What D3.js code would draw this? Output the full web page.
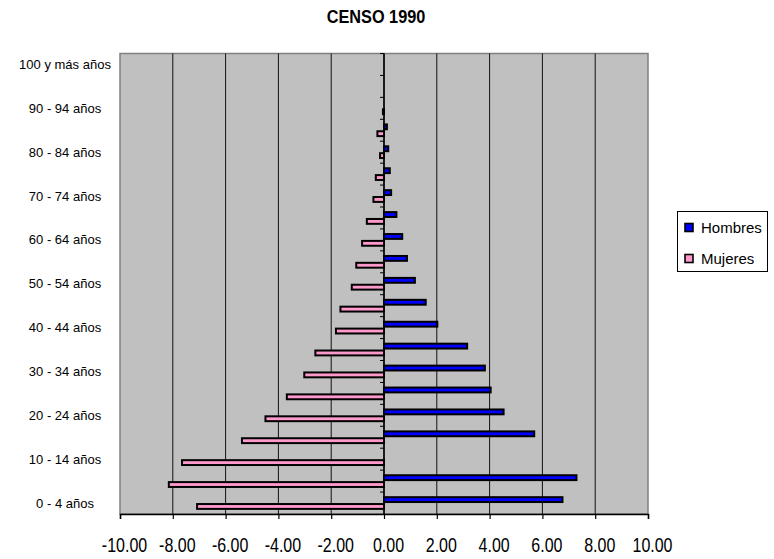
<!DOCTYPE html>
<html>
<head>
<meta charset="utf-8">
<script src="https://cdn.jsdelivr.net/npm/d3@7"></script>
<style>
  body { margin: 0; background: #fff; }
  #chart { width: 774px; height: 559px; }
</style>
</head>
<body>
<div id="chart"></div>
<script>
"use strict"

/* values, 0-4 first (bottom of the chart) */
let categories = ["0 - 4 años", "5 - 9 años", "10 - 14 años", "15 - 19 años", "20 - 24 años",
    "25 - 29 años", "30 - 34 años", "35 - 39 años", "40 - 44 años", "45 - 49 años",
    "50 - 54 años", "55 - 59 años", "60 - 64 años", "65 - 69 años", "70 - 74 años",
    "75 - 79 años", "80 - 84 años", "85 - 89 años", "90 - 94 años", "95 - 99 años",
    "100 y más años"];

let hombres = [6.76, 7.29, 0, 5.69, 4.53, 4.04, 3.82, 3.15, 2.02, 1.58,
    1.17, 0.87, 0.69, 0.47, 0.27, 0.22, 0.16, 0.11, 0, 0, 0];

let mujeres = [-7.08, -8.15, -7.65, -5.38, -4.49, -3.68, -3.02, -2.6, -1.82, -1.65,
    -1.22, -1.05, -0.83, -0.65, -0.4, -0.31, -0.15, -0.25, -0.04, 0, 0];

let series = ["Hombres", "Mujeres"];
let seriesColors = ["#0000FF", "#FF99CC"];

let xTicks = [-10, -8, -6, -4, -2, 0, 2, 4, 6, 8, 10];
let xTickLabels = ["-10.00", "-8.00", "-6.00", "-4.00", "-2.00", "0.00", "2.00", "4.00", "6.00", "8.00", "10.00"];

let title = "CENSO 1990";

let drawing = d3.select("#chart")
    .append("svg")
    .attr("width", 774)
    .attr("height", 559);

// plot area edges measured in the picture
let plotLeft = 120, plotRight = 648, plotTop = 53.5, plotBottom = 514;

let x = d3.scaleLinear().domain([-10, 10]).range([plotLeft, plotRight]);
let y = d3.scaleBand().domain(categories.slice().reverse()).range([plotTop, plotBottom]);
let sub = d3.scaleBand().domain(series).range([0, y.bandwidth()]).paddingOuter(0.6);

// no narrow font installed, so squeeze the normal one sideways
function squeeze(sel, ratio) {
    sel.each(function () {
        let w = this.getComputedTextLength();
        d3.select(this).attr("textLength", w * ratio).attr("lengthAdjust", "spacingAndGlyphs");
    });
}

// grey plot background
drawing.append("rect")
    .attr("x", plotLeft)
    .attr("y", plotTop)
    .attr("width", plotRight - plotLeft)
    .attr("height", plotBottom - plotTop)
    .attr("fill", "#C0C0C0")
    .attr("stroke", "#808080")
    .attr("stroke-width", 1.5);

// vertical gridlines
drawing.append("g")
    .selectAll("line")
    .data(xTicks.filter(d => d > -10 && d < 10))
    .join("line")
    .attr("x1", d => x(d))
    .attr("x2", d => x(d))
    .attr("y1", plotTop)
    .attr("y2", plotBottom)
    .attr("stroke", "#111")
    .attr("stroke-width", 1);

let rows = categories.map((c, i) => ({cat: c, vals: [hombres[i], mujeres[i]]}));
let sw = 2;

series.forEach((s, k) => {
    drawing.append("g")
        .selectAll("rect")
        .data(rows.filter(r => r.vals[k] !== 0))
        .join("rect")
        .attr("x", r => x(Math.min(0, r.vals[k])))
        .attr("y", r => y(r.cat) + sub(s) + sw / 2)
        .attr("width", r => Math.abs(x(r.vals[k]) - x(0)))
        .attr("height", sub.bandwidth() - sw)
        .attr("fill", seriesColors[k])
        .attr("stroke", "#000")
        .attr("stroke-width", sw);
});

// category axis crossing at zero, ticks on the band edges
let yAxis = drawing.append("g");
yAxis.append("line")
    .attr("x1", x(0)).attr("x2", x(0))
    .attr("y1", plotTop).attr("y2", plotBottom)
    .attr("stroke", "#000")
    .attr("stroke-width", 1.5);
yAxis.selectAll("line.tk")
    .data(categories)
    .join("line")
    .attr("class", "tk")
    .attr("x1", x(0) - 4).attr("x2", x(0))
    .attr("y1", d => y(d)).attr("y2", d => y(d))
    .attr("stroke", "#000")
    .attr("stroke-width", 1);

// category labels, every second one, at the left of the plot
let labelAxis = drawing.append("g")
    .attr("transform", "translate(65,0)")
    .call(d3.axisLeft(y).tickValues(categories.filter((c, i) => i % 2 === 0)).tickSize(0));
labelAxis.select(".domain").remove();
labelAxis.selectAll("text")
    .attr("x", 0)
    .attr("dy", "0.35em")
    .attr("text-anchor", "middle")
    .attr("fill", "#000")
    .style("font-family", "'Liberation Sans', Arial, sans-serif")
    .style("font-size", "13px");

// value axis at the bottom
let xAxis = drawing.append("g")
    .attr("transform", "translate(0," + plotBottom + ")")
    .call(d3.axisBottom(x).tickValues(xTicks).tickFormat((d, i) => xTickLabels[i]).tickSize(5));
xAxis.select(".domain").attr("stroke", "#000").attr("stroke-width", 1.5);
xAxis.selectAll(".tick line").attr("stroke", "#000").attr("stroke-width", 1.2);
xAxis.selectAll("text")
    .attr("y", 38)
    .attr("dy", 0)
    .attr("x", 4)
    .attr("fill", "#000")
    .style("font-family", "'Liberation Sans', Arial, sans-serif")
    .style("font-size", "19.5px")
    .call(squeeze, 0.82);

// title
drawing.append("text")
    .attr("x", 376)
    .attr("y", 23)
    .attr("text-anchor", "middle")
    .style("font-family", "'Liberation Sans', Arial, sans-serif")
    .style("font-weight", "bold")
    .style("font-size", "18.5px")
    .text(title)
    .call(squeeze, 0.88);

// legend
let legend = drawing.append("g");
legend.append("rect")
    .attr("x", 677.5).attr("y", 211.5)
    .attr("width", 90).attr("height", 60)
    .attr("fill", "#fff")
    .attr("stroke", "#000")
    .attr("stroke-width", 1);
let items = legend.selectAll("g.item")
    .data(series)
    .join("g")
    .attr("class", "item")
    .attr("transform", (d, i) => "translate(685," + (223.5 + i * 31) + ")");
items.append("rect")
    .attr("width", 8).attr("height", 8)
    .attr("fill", (d, i) => seriesColors[i])
    .attr("stroke", "#000")
    .attr("stroke-width", 1.6);
items.append("text")
    .attr("x", 16)
    .attr("y", 9.5)
    .style("font-family", "'Liberation Sans', Arial, sans-serif")
    .style("font-size", "15px")
    .text(d => d);
</script>
</body>
</html>
